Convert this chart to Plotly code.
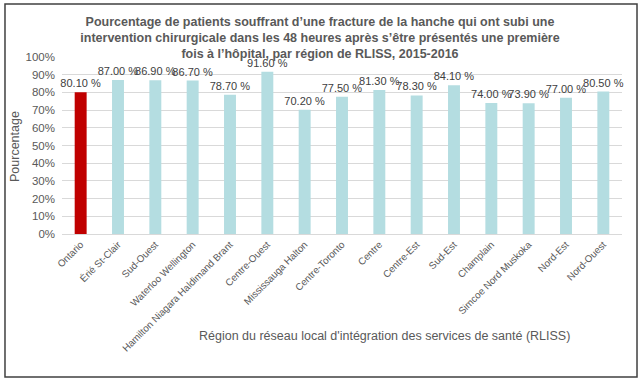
import plotly.graph_objects as go

regions = ["Ontario", "Érié St-Clair", "Sud-Ouest", "Waterloo Wellington",
           "Hamilton Niagara Haldimand Brant", "Centre-Ouest", "Mississauga Halton",
           "Centre-Toronto", "Centre", "Centre-Est", "Sud-Est", "Champlain",
           "Simcoe Nord Muskoka", "Nord-Est", "Nord-Ouest"]
pourcentages = [80.1, 87.0, 86.9, 86.7, 78.7, 91.6, 70.2, 77.5, 81.3, 78.3, 84.1, 74.0, 73.9, 77.0, 80.5]
y_ticks = [0, 10, 20, 30, 40, 50, 60, 70, 80, 90, 100]
y_tick_labels = [f"{v}%" for v in y_ticks]

colors = ["#C00000"] + ["#B4DDE1"] * (len(regions) - 1)

FONT = "Arial, Liberation Sans, sans-serif"

fig = go.Figure(go.Bar(
    x=regions, y=pourcentages,
    marker=dict(color=colors, line=dict(width=0)),
    texttemplate="%{y:.2f} %", textposition="outside",
    textfont=dict(family=FONT, size=11, color="#404040"),
    constraintext="none",
    cliponaxis=False,
))

fig.update_layout(
    width=640, height=381,
    margin=dict(l=62, r=18, t=57, b=147),
    paper_bgcolor="white", plot_bgcolor="white",
    bargap=0.68,
    showlegend=False,
    font=dict(family=FONT, color="#595959"),
    title=dict(
        text="<b>Pourcentage de patients souffrant d’une fracture de la hanche qui ont subi une<br>"
             "intervention chirurgicale dans les 48 heures après s’être présentés une première<br>"
             "fois à l’hôpital, par région de RLISS, 2015-2016</b>",
        x=0.5, xanchor="center", y=0.933, yanchor="top",
        font=dict(family=FONT, size=12.5, color="#595959"),
    ),
    xaxis=dict(
        tickangle=-45, tickfont=dict(size=9.8, color="#595959"),
        showline=True, linecolor="#D9D9D9", linewidth=1,
        ticks="", showgrid=False, automargin=False,
    ),
    yaxis=dict(
        range=[0, 100], tickmode="array", tickvals=y_ticks, ticktext=y_tick_labels,
        tickfont=dict(size=11.5, color="#595959"),
        showgrid=True, gridcolor="#D9D9D9", gridwidth=1,
        zeroline=False, ticks="", automargin=False, ticklabelstandoff=6,
    ),
    annotations=[
        dict(
            text="Région du réseau local d'intégration des services de santé (RLISS)",
            xref="paper", yref="paper", x=0.575, y=-0.576,
            xanchor="center", yanchor="middle", showarrow=False,
            font=dict(family=FONT, size=12.5, color="#595959"),
        ),
        dict(
            text="Pourcentage", textangle=-90,
            xref="paper", yref="paper", x=-0.0839, y=0.4915,
            xanchor="center", yanchor="middle", showarrow=False,
            font=dict(family=FONT, size=12.5, color="#595959"),
        ),
    ],
    shapes=[dict(
        type="rect", xref="paper", yref="paper",
        x0=-0.1018, x1=1.0268, y0=-0.808, y1=1.2994,
        line=dict(color="#404040", width=1.5), fillcolor="rgba(0,0,0,0)",
        layer="above",
    )],
)

fig.write_html("out.html", config={"displayModeBar": False},
               post_script="document.body.style.margin='0';document.body.style.padding='0';")
